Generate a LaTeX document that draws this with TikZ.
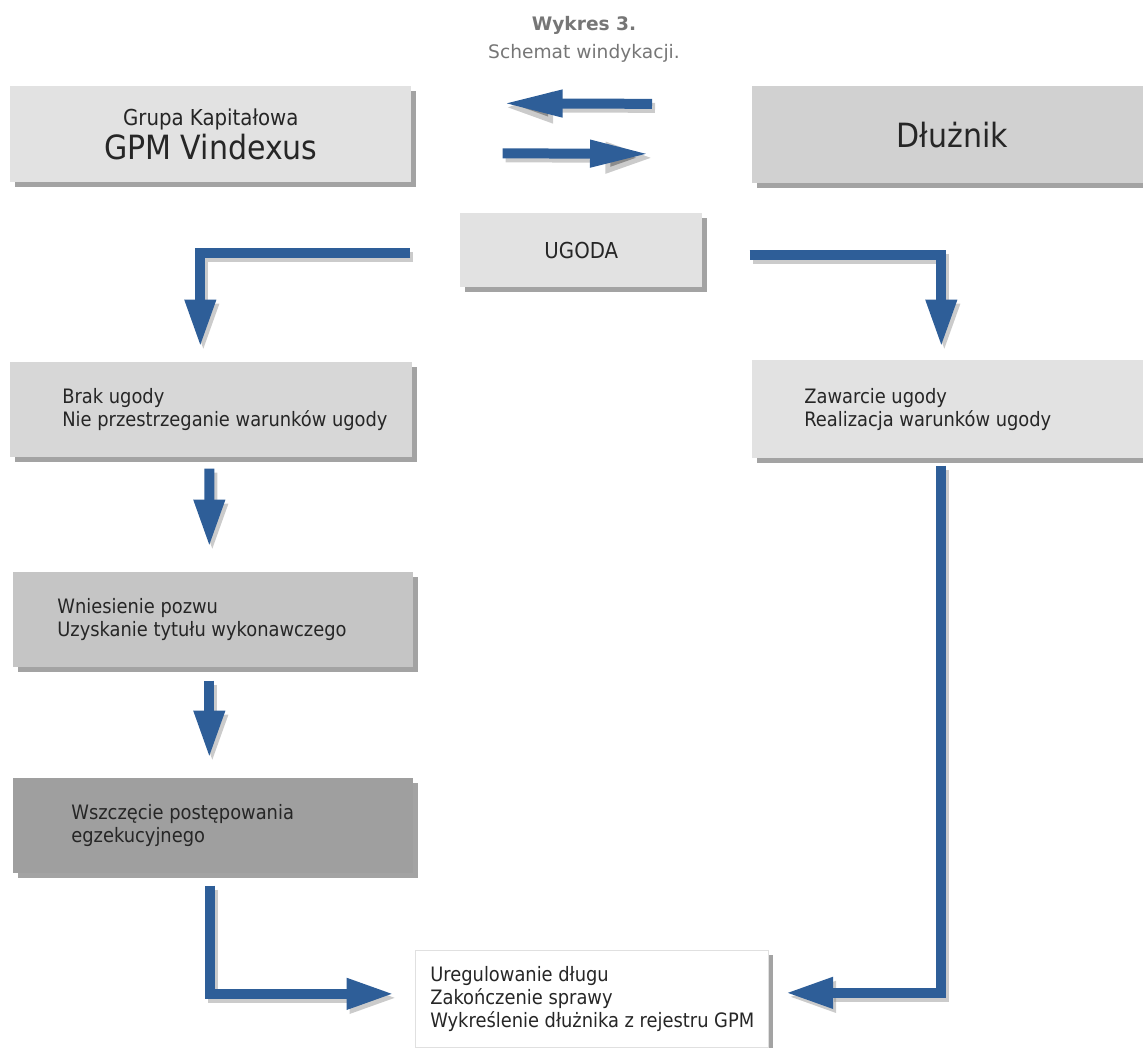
\documentclass[tikz,border=0pt]{standalone}
\usepackage{fontspec}
\setmainfont{DejaVu Sans Condensed}
\newfontfamily\titlefont{DejaVu Sans}
\usetikzlibrary{arrows.meta, calc, shadows}

\definecolor{flowblue}{RGB}{46,94,152}
\definecolor{boxA}{RGB}{226,226,226}
\definecolor{boxB}{RGB}{209,209,209}
\definecolor{boxC}{RGB}{215,215,215}
\definecolor{boxD}{RGB}{197,197,197}
\definecolor{boxE}{RGB}{159,159,159}
\definecolor{titlegray}{RGB}{118,118,118}

\tikzset{
  box/.style={fill=boxA, anchor=north west, inner sep=0pt,
    drop shadow={shadow xshift=0.09cm, shadow yshift=-0.09cm, fill=black!60, opacity=0.6}},
  boxtext/.style={anchor=west, align=left, inner sep=0pt,
    font=\fontsize{11.3}{13}\selectfont, text=black!85},
  flow/.style={draw=flowblue, line width=0.2cm, -{Triangle[length=0.95cm, width=0.58cm]},
    preaction={draw=black!45, draw opacity=0.45, line width=0.2cm,
      -{Triangle[length=0.95cm, width=0.58cm]},
      transform canvas={shift={(0.06cm,-0.08cm)}}}},
  flowlong/.style={flow, -{Triangle[length=1.2cm, width=0.5cm]}},
}

\begin{document}
\begin{tikzpicture}[x=0.02cm, y=-0.02cm]
  \useasboundingbox (0,0) rectangle (1143,1048);
  % tytul
  \node[text=titlegray, font=\titlefont\bfseries\fontsize{10.6}{12}\selectfont] (tytul) at (584,25) {Wykres 3.};
  \node[text=titlegray, font=\titlefont\fontsize{10.6}{12}\selectfont] (podtytul) at (584,53) {Schemat windykacji.};
  % strony
  \node[box, minimum width=8.02cm, minimum height=1.92cm, align=center, text=black!85] (gpm) at (10,86)
    {{\fontsize{12.5}{15}\selectfont Grupa Kapitałowa}\\[1pt]{\fontsize{19}{20}\selectfont GPM Vindexus}};
  \node[box, fill=boxB, minimum width=8cm, minimum height=1.94cm, text=black!85,
    font=\fontsize{19}{20}\selectfont] (dluznik) at (752,86) {Dłużnik};
  \node[box, minimum width=4.84cm, minimum height=1.48cm, text=black!85,
    font=\fontsize{12.5}{14}\selectfont] (ugoda) at (460,213) {UGODA};
  % lewa galaz
  \node[box, fill=boxC, minimum width=8.04cm, minimum height=1.9cm] (brak) at (10,362) {};
  \node[boxtext] (brakT) at ($(brak.west)+(52,0)$) {Brak ugody\\Nie przestrzeganie warunków ugody};
  \node[box, fill=boxD, minimum width=8cm, minimum height=1.9cm] (wniesienie) at (13,572) {};
  \node[boxtext] (wniesienieT) at ($(wniesienie.west)+(44,0)$) {Wniesienie pozwu\\Uzyskanie tytułu wykonawczego};
  \node[box, fill=boxE, minimum width=8cm, minimum height=1.9cm] (wszczecie) at (13,778) {};
  \node[boxtext] (wszczecieT) at ($(wszczecie.west)+(58,0)$) {Wszczęcie postępowania\\egzekucyjnego};
  % prawa galaz
  \node[box, minimum width=8cm, minimum height=1.96cm] (zawarcie) at (752,360) {};
  \node[boxtext] (zawarcieT) at ($(zawarcie.west)+(52,0)$) {Zawarcie ugody\\Realizacja warunków ugody};
  % koniec
  \node[box, fill=white, draw=black!12, minimum width=7.06cm, minimum height=1.94cm] (koniec) at (415,950) {};
  \node[boxtext] (koniecT) at ($(koniec.west)+(15,0)$) {Uregulowanie długu\\Zakończenie sprawy\\Wykreślenie dłużnika z rejestru GPM};
  % strzalki
  \draw[flowlong] ($(dluznik.west)+(-100,-31)$) -- ($(gpm.east)+(91,-31)$);
  \draw[flowlong] ($(gpm.east)+(91,19)$) -- ($(dluznik.west)+(-102,19)$);
  \draw[flow] ($(ugoda.west)+(-50,3)$) -| ($(brak.north)+(-11,-15)$);
  \draw[flow] ($(ugoda.east)+(47,5)$) -| ($(zawarcie.north)+(-11,-13)$);
  \draw[flow] ($(brak.south)+(-2,11)$) -- ($(wniesienie.north)+(-4,-25)$);
  \draw[flow] ($(wniesienie.south)+(-4,13)$) -- ($(wszczecie.north)+(-4,-20)$);
  \draw[flow] ($(wszczecie.south)+(-3,12)$) |- ($(koniec.west)+(-21,-5)$);
  \draw[flow] ($(zawarcie.south)+(-11,7)$) |- ($(koniec.east)+(17,-6)$);
\end{tikzpicture}
\end{document}
